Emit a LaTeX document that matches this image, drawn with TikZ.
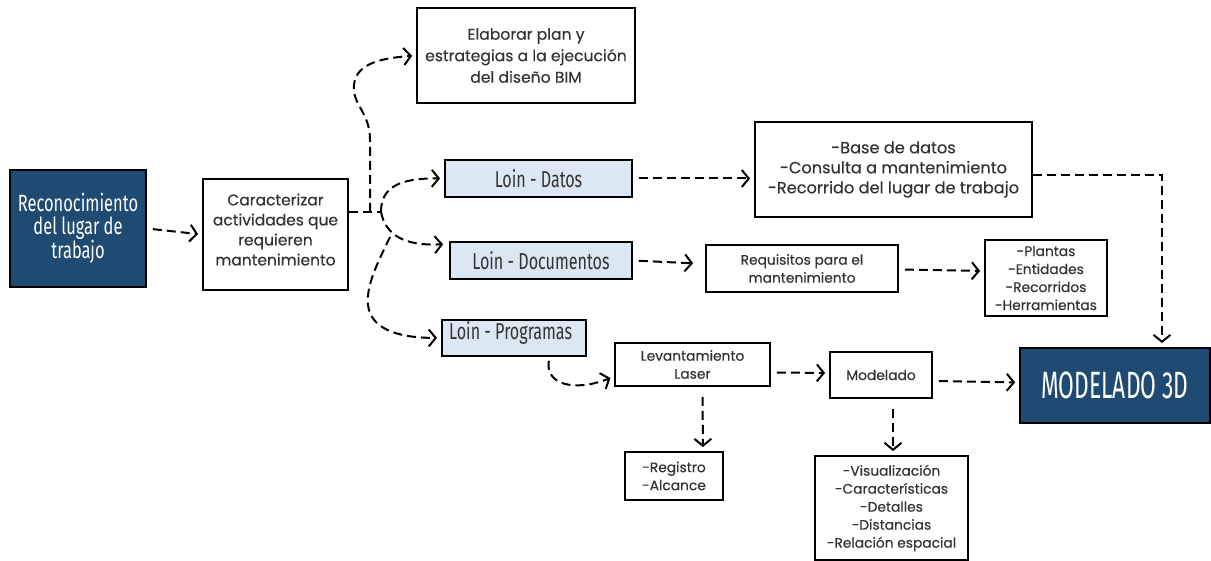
\documentclass[tikz,border=0pt]{standalone}
\usepackage{fontspec}
\setmainfont{Poppins}[FakeBold=0.35]
\newfontfamily\handfont[FakeStretch=0.7]{Fira Sans}
\newfontfamily\handfontN[FakeStretch=0.6]{Fira Sans}
\usetikzlibrary{arrows.meta,calc}
\definecolor{navy}{HTML}{1F4A72}
\definecolor{lightblue}{HTML}{DCE7F4}
\definecolor{txt}{HTML}{333333}
\begin{document}
\begin{tikzpicture}[x=1pt,y=-1pt,
  box/.style={draw=black, line width=1.8pt, fill=white, align=center, inner sep=0pt, text=txt},
  dark/.style={draw=black, line width=1.8pt, fill=navy, text=white, align=center, inner sep=0pt},
  loinbox/.style={draw=black, line width=1.8pt, fill=lightblue, inner sep=0pt},
  hand/.style={text=txt, inner sep=0pt, font=\handfont\fontsize{23}{25}\selectfont},
  conn/.style={line width=2pt, dash pattern=on 9pt off 5pt, -{Straight Barb[length=7pt,width=17pt]}, shorten >=4pt, shorten <=6pt},
  plain/.style={line width=2pt, dash pattern=on 9pt off 5pt},
  big/.style={font=\fontsize{15.5}{20}\selectfont},
  med/.style={font=\fontsize{15.6}{21.5}\selectfont},
  med2/.style={font=\fontsize{16.2}{20}\selectfont},
  small/.style={font=\fontsize{13.8}{18}\selectfont},
]
\useasboundingbox (0,0) rectangle (1211,561);

% nodes
\node[dark, minimum width=136pt, minimum height=117pt, font=\handfont\fontsize{23.5}{23}\selectfont] (rec) at (78,228.5) {Reconocimiento\\del lugar de\\trabajo};
\node[box, big, minimum width=145pt, minimum height=111pt] (car) at (275.5,234.5) {Caracterizar\\actividades que\\requieren\\mantenimiento\\[-10pt]};
\node[box, med, minimum width=218pt, minimum height=95pt] (ela) at (526,55.5) {Elaborar plan y\\estrategias a la ejecución\\del diseño BIM};
\node[loinbox, hand, minimum width=187pt, minimum height=37pt] (ld) at (538.5,178.5) {Loin - Datos};
\node[loinbox, hand, minimum width=182pt, minimum height=37pt] (ldoc) at (541,260.5) {Loin - Documentos};
\node[loinbox, minimum width=144pt, minimum height=36pt, anchor=north west] (lp) at (441,319) {};
\node[hand, anchor=west] (lpt) at ($(lp.north west)+(8,14)$) {Loin - Programas};
\node[box, med2, minimum width=277pt, minimum height=95pt] (bd) at (893.5,169.5) {-Base de datos\\-Consulta a mantenimiento\\-Recorrido del lugar de trabajo};
\node[box, small, minimum width=192pt, minimum height=47pt] (req) at (802,268.5) {Requisitos para el\\mantenimiento};
\node[box, small, minimum width=122pt, minimum height=76pt] (pla) at (1046,278) {-Plantas\\-Entidades\\-Recorridos\\-Herramientas};
\node[box, small, minimum width=155pt, minimum height=43pt] (lev) at (692.5,364.5) {Levantamiento\\Laser};
\node[box, small, minimum width=102pt, minimum height=46pt] (mod) at (881,375) {Modelado};
\node[dark, minimum width=190pt, minimum height=75pt, font=\handfontN\fontsize{38}{40}\selectfont] (m3d) at (1115,385.5) {MODELADO 3D};
\node[box, small, minimum width=98pt, minimum height=48pt] (reg) at (674,476) {-Registro\\-Alcance};
\node[box, small, minimum width=153pt, minimum height=104pt] (vis) at (891.5,508) {-Visualización\\-Características\\-Detalles\\-Distancias\\-Relación espacial};

% connectors
\draw[conn] (rec.east) -- (car.west);
\coordinate (j) at (370,212);
\coordinate (j2) at (381,212);
\draw[plain] (car.east |- j) -- (j2);
\draw[conn, shorten <=0pt] (j) -- (370,140) .. controls (370,112) and (352,105) .. (354,85) .. controls (356,62) and (385,58) .. (ela.west);
\draw[conn, shorten <=0pt] (j2) .. controls (381,188) and (398,178) .. (ld.west);
\draw[conn, shorten <=0pt] (j2) .. controls (386,236) and (405,246) .. ($(ldoc.north west)+(-2,3)$);
\draw[conn, shorten <=0pt] (390,237) .. controls (378,262) and (366,285) .. (368,305) .. controls (371,332) and (405,338) .. (lp.west);
\draw[conn] (ld.east) -- (bd.west |- ld.east);
\draw[conn, shorten <=0pt] ($(bd.east)+(0,6)$) -| ($(m3d.north)+(47,0)$);
\draw[conn] (ldoc.east) -- ($(req.west |- ldoc.east)+(-8,3)$);
\draw[conn] ($(req.east)+(0,1)$) -- ($(pla.west)+(0,-7)$);
\draw[conn, shorten <=0pt] ($(lp.south east)+(-38,4)$) .. controls (545,385) and (575,392) .. ($(lev.west)+(0,12)$);
\draw[conn] ($(lev.east)+(0,8)$) -- ($(mod.west)+(0,-2)$);
\draw[conn] ($(mod.east)+(0,6)$) -- ($(m3d.west)+(0,-3)$);
\draw[conn] ($(lev.south)+(10,4)$) -- ($(reg.north)+(29,0)$);
\draw[conn] ($(mod.south)+(12,4)$) -- ($(vis.north)+(1.5,0)$);
\end{tikzpicture}
\end{document}
